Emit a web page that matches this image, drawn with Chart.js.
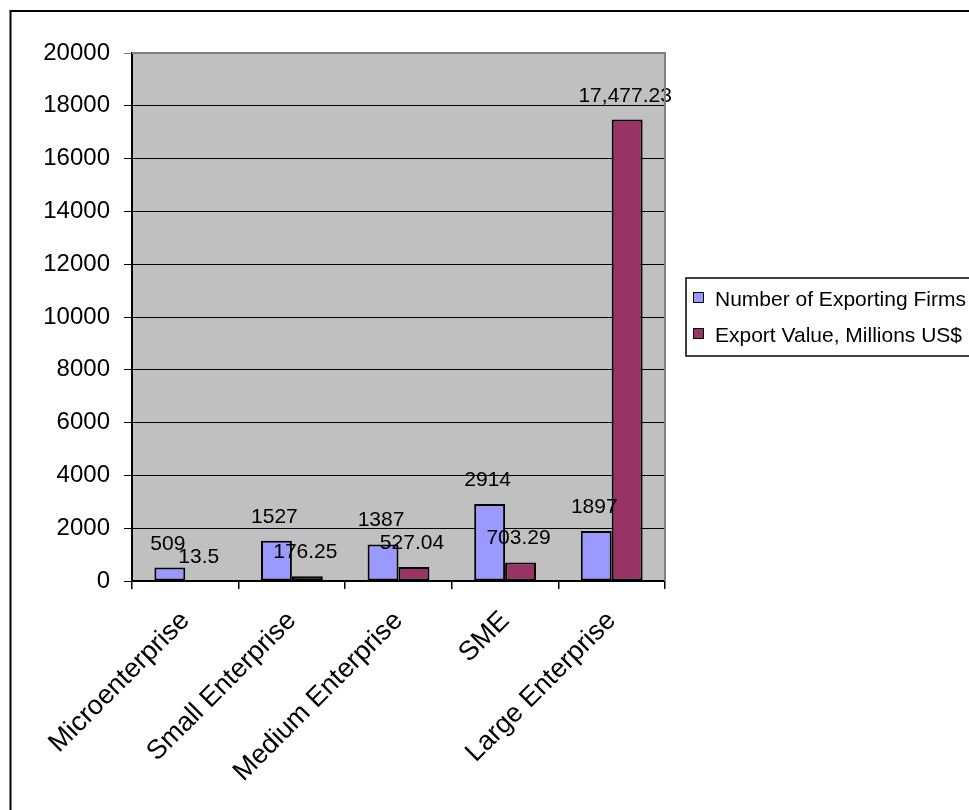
<!DOCTYPE html>
<html>
<head>
<meta charset="utf-8">
<script src="https://cdn.jsdelivr.net/npm/chart.js@4"></script>
<style>
  body { margin: 0; background: #fff; }
  canvas { display: block; }
</style>
</head>
<body>
<canvas id="myChart" width="969" height="810"></canvas>
<script>
// chart data
const categories = ['Microenterprise', 'Small Enterprise', 'Medium Enterprise', 'SME', 'Large Enterprise'];
const firmCounts = [509, 1527, 1387, 2914, 1897];
const exportValues = [13.5, 176.25, 527.04, 703.29, 17477.23];
const yTicks = [0, 2000, 4000, 6000, 8000, 10000, 12000, 14000, 16000, 18000, 20000];

const seriesNames = ['Number of Exporting Firms', 'Export Value, Millions US$'];
const labelFormats = [
    v => String(v),
    v => v.toLocaleString('en-US', { maximumFractionDigits: 2 }),
];

const FONT = 'Arial, "Liberation Sans", sans-serif';

// grey plot area, frame and borders
const plotFrame = {
    id: 'plotFrame',
    beforeDraw(chart) {
        const { ctx, chartArea: a } = chart;
        ctx.save();
        ctx.fillStyle = '#C0C0C0';
        ctx.fillRect(a.left, a.top, a.right - a.left, a.bottom - a.top);
        ctx.restore();
    },
    afterDraw(chart) {
        const { ctx, chartArea: a } = chart;
        ctx.save();
        ctx.strokeStyle = '#808080';
        ctx.lineWidth = 2;
        ctx.beginPath();
        ctx.moveTo(a.left, a.top);
        ctx.lineTo(a.right, a.top);
        ctx.lineTo(a.right, a.bottom);
        ctx.stroke();
        // outer border of the chart object
        ctx.strokeStyle = '#000';
        ctx.beginPath();
        ctx.moveTo(10.5, 820);
        ctx.lineTo(10.5, 11);
        ctx.lineTo(980, 11);
        ctx.stroke();
        ctx.restore();
    }
};

// value labels above each bar
const barLabels = {
    id: 'barLabels',
    afterDatasetsDraw(chart) {
        const { ctx } = chart;
        ctx.save();
        ctx.font = '21px ' + FONT;
        ctx.fillStyle = '#000';
        ctx.textAlign = 'center';
        ctx.textBaseline = 'alphabetic';
        chart.data.datasets.forEach((ds, i) => {
            chart.getDatasetMeta(i).data.forEach((bar, j) => {
                ctx.fillText(labelFormats[i](ds.data[j]), bar.x - 2, bar.y - 18);
            });
        });
        ctx.restore();
    }
};

// boxed legend on the right
const boxLegend = {
    id: 'boxLegend',
    afterDraw(chart) {
        const { ctx } = chart;
        ctx.save();
        ctx.fillStyle = '#fff';
        ctx.fillRect(686, 278, 300, 78);
        ctx.strokeStyle = '#000';
        ctx.lineWidth = 1.5;
        ctx.strokeRect(686, 278, 300, 78);
        ctx.font = '21px ' + FONT;
        ctx.textBaseline = 'alphabetic';
        chart.data.datasets.forEach((ds, i) => {
            const y = 292 + i * 36;
            ctx.fillStyle = ds.backgroundColor;
            ctx.fillRect(693, y, 10, 10);
            ctx.lineWidth = 1;
            ctx.strokeStyle = '#000';
            ctx.strokeRect(693.5, y + 0.5, 10, 10);
            ctx.fillStyle = '#000';
            ctx.fillText(ds.label, 715, y + 14);
        });
        ctx.restore();
    }
};

const ctx = document.getElementById('myChart').getContext('2d');

const myChart = new Chart(ctx, {
    type: 'bar',
    data: {
        labels: categories,
        datasets: [
            {
                label: seriesNames[0],
                data: firmCounts,
                backgroundColor: '#9999FF',
                borderColor: '#000',
                borderWidth: 2,
                borderSkipped: false,
            },
            {
                label: seriesNames[1],
                data: exportValues,
                backgroundColor: '#993366',
                borderColor: '#000',
                borderWidth: 2,
                borderSkipped: false,
            },
        ],
    },
    options: {
        responsive: false,
        animation: false,
        categoryPercentage: 0.58,
        barPercentage: 1,
        layout: {
            padding: { left: 0, top: 53, right: 304, bottom: 0 },
        },
        plugins: {
            legend: { display: false },
            tooltip: { enabled: false },
        },
        scales: {
            x: {
                grid: {
                    drawOnChartArea: false,
                    color: '#000',
                    tickLength: 8,
                    lineWidth: 1.5,
                },
                border: { color: '#000', width: 2 },
                ticks: {
                    color: '#000',
                    font: { family: FONT, size: 27 },
                    maxRotation: 45,
                    minRotation: 45,
                    padding: 16,
                },
                afterFit: s => { s.height = 229; },
            },
            y: {
                min: 0,
                max: 20000,
                afterBuildTicks: s => { s.ticks = yTicks.map(v => ({ value: v })); },
                grid: {
                    color: c => (c.tick && c.tick.value === 20000 ? '#808080' : '#000'),
                    tickLength: 8,
                    lineWidth: 1,
                },
                border: { color: '#000', width: 2 },
                ticks: {
                    color: '#000',
                    font: { family: FONT, size: 24 },
                    padding: 14,
                    callback: v => String(v),
                },
                afterFit: s => { s.width = 132; },
            },
        },
    },
    plugins: [plotFrame, barLabels, boxLegend],
});
</script>
</body>
</html>
